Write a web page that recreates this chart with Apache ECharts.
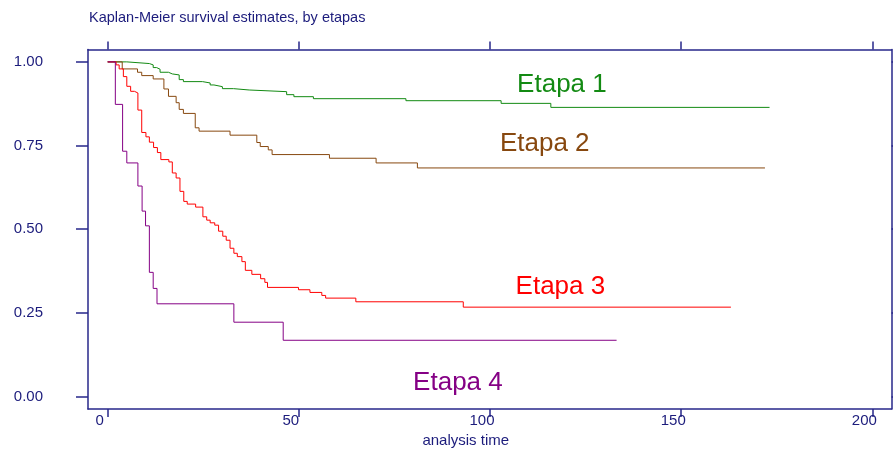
<!DOCTYPE html>
<html>
<head>
<meta charset="utf-8">
<script src="https://cdn.jsdelivr.net/npm/echarts@6/dist/echarts.min.js"></script>
<style>
  html, body { margin: 0; padding: 0; background: #fff; }
  #main { width: 893px; height: 453px; }
</style>
</head>
<body>
<div id="main"></div>
<script>
// tick labels
var xTicks = [0, 50, 100, 150, 200];
var yTicks = [0, 0.25, 0.5, 0.75, 1];

// Kaplan-Meier steps: time when the estimate changes, estimate from then on
var etapa1T = [0, 5.0, 10.9, 11.9, 12.8, 13.7, 15.9, 16.9, 18.7, 19.8, 24.8, 26.8, 27.8, 30.0, 32.9, 37.0, 46.8, 48.7, 53.8, 78.0, 102.9, 115.9, 173.1];
var etapa1S = [1, 0.995, 0.991, 0.983, 0.978, 0.969, 0.964, 0.961, 0.947, 0.941, 0.937, 0.931, 0.926, 0.920, 0.916, 0.911, 0.902, 0.896, 0.890, 0.884, 0.876, 0.864, 0.864];

var etapa2T = [0, 3.8, 7.8, 8.9, 11.9, 14.7, 15.9, 17.9, 18.7, 19.8, 22.9, 23.9, 32.0, 39.0, 39.9, 42.0, 43.0, 58.0, 70.2, 81.0, 171.9];
var etapa2S = [1, 0.979, 0.969, 0.959, 0.949, 0.919, 0.897, 0.878, 0.858, 0.846, 0.803, 0.793, 0.781, 0.759, 0.747, 0.737, 0.723, 0.712, 0.698, 0.683, 0.683];

var etapa3T = [0, 2.2, 3.0, 4.1, 5.0, 6.0, 7.0, 7.9, 8.9, 10.0, 10.9, 12.0, 13.0, 13.9, 16.0, 16.9, 17.9, 18.9, 19.9, 20.8, 23.0, 24.9, 25.9, 26.8, 28.0, 29.0, 30.1, 31.0, 32.0, 33.0, 33.9, 35.1, 36.0, 37.7, 40.0, 41.1, 41.8, 49.9, 52.9, 56.0, 57.0, 64.9, 93.0, 163.0];
var etapa3S = [1, 0.991, 0.979, 0.956, 0.927, 0.912, 0.907, 0.856, 0.789, 0.776, 0.760, 0.744, 0.729, 0.708, 0.701, 0.668, 0.653, 0.613, 0.583, 0.575, 0.566, 0.537, 0.527, 0.519, 0.512, 0.494, 0.479, 0.467, 0.443, 0.428, 0.418, 0.403, 0.377, 0.365, 0.352, 0.341, 0.326, 0.319, 0.311, 0.302, 0.294, 0.283, 0.267, 0.267];

var etapa4T = [0, 2.0, 3.9, 5.0, 7.9, 9.0, 9.9, 10.9, 11.9, 12.9, 33.0, 45.9, 133.1];
var etapa4S = [1, 0.873, 0.733, 0.698, 0.629, 0.554, 0.510, 0.371, 0.323, 0.277, 0.222, 0.168, 0.168];

var names = ['Etapa 1', 'Etapa 2', 'Etapa 3', 'Etapa 4'];

function pairs(t, s) {
    var out = [];
    for (var i = 0; i < t.length; i++) out.push([t[i], s[i]]);
    return out;
}

var navy = '#1c1c7c';
var axisCol = '#27278a';
var font = '"Liberation Sans", Arial, sans-serif';

function kmSeries(name, t, s, color, labelPos) {
    return {
        name: name,
        type: 'line',
        step: 'end',
        data: pairs(t, s),
        symbol: 'none',
        lineStyle: { color: color, width: 1 },
        itemStyle: { color: color },
        markPoint: {
            symbol: 'circle',
            symbolSize: 0,
            data: [{ coord: labelPos, value: name }],
            label: {
                show: true,
                position: 'inside',
                formatter: name,
                color: color,
                fontSize: 26,
                fontFamily: font
            }
        }
    };
}

var chart = echarts.init(document.getElementById('main'));
var option = {
    animation: false,
    title: {
        text: 'Kaplan-Meier survival estimates, by etapas',
        left: 84,
        top: 5,
        textStyle: { color: navy, fontSize: 14.5, fontWeight: 'normal', fontFamily: font }
    },
    grid: { left: 88, right: 1.5, top: 49.5, bottom: 41 },
    xAxis: [
        {
            type: 'value',
            min: -5.15,
            max: 205,
            name: 'analysis time',
            nameLocation: 'middle',
            nameGap: 22,
            nameTextStyle: { color: navy, fontSize: 15, fontFamily: font, padding: [0, 48, 0, 0] },
            axisLine: { show: true, onZero: false, lineStyle: { color: axisCol, width: 1.5 } },
            axisTick: { show: true, customValues: xTicks, length: 8, lineStyle: { color: axisCol, width: 1.5 } },
            axisLabel: { customValues: xTicks, color: navy, fontSize: 15, fontFamily: font, margin: 4, padding: [0, 16, 0, 0] },
            splitLine: { show: false }
        },
        {
            type: 'value',
            position: 'top',
            min: -5.15,
            max: 205,
            axisLine: { show: true, onZero: false, lineStyle: { color: axisCol, width: 1.5 } },
            axisTick: { show: true, customValues: xTicks, length: 8, lineStyle: { color: axisCol, width: 1.5 } },
            axisLabel: { show: false },
            splitLine: { show: false }
        }
    ],
    yAxis: [
        {
            type: 'value',
            min: -0.0377,
            max: 1.037,
            axisLine: { show: true, onZero: false, lineStyle: { color: axisCol, width: 1.5 } },
            axisTick: { show: true, customValues: yTicks, length: 12, lineStyle: { color: axisCol, width: 1.5 } },
            axisLabel: {
                customValues: yTicks,
                color: navy,
                fontSize: 15,
                fontFamily: font,
                margin: 45,
                formatter: function (v) { return v.toFixed(2); }
            },
            splitLine: { show: false }
        },
        {
            type: 'value',
            position: 'right',
            min: -0.0377,
            max: 1.037,
            axisLine: { show: true, onZero: false, lineStyle: { color: axisCol, width: 1.5 } },
            axisTick: { show: true, customValues: yTicks, length: 12, lineStyle: { color: axisCol, width: 1.5 } },
            axisLabel: { show: false },
            splitLine: { show: false }
        }
    ],
    series: [
        kmSeries(names[0], etapa1T, etapa1S, '#138a13', [118.8, 0.932]),
        kmSeries(names[1], etapa2T, etapa2S, '#87480f', [114.3, 0.755]),
        kmSeries(names[2], etapa3T, etapa3S, '#ff0000', [118.4, 0.328]),
        kmSeries(names[3], etapa4T, etapa4S, '#850085', [91.6, 0.04])
    ]
};
chart.setOption(option);
</script>
</body>
</html>
